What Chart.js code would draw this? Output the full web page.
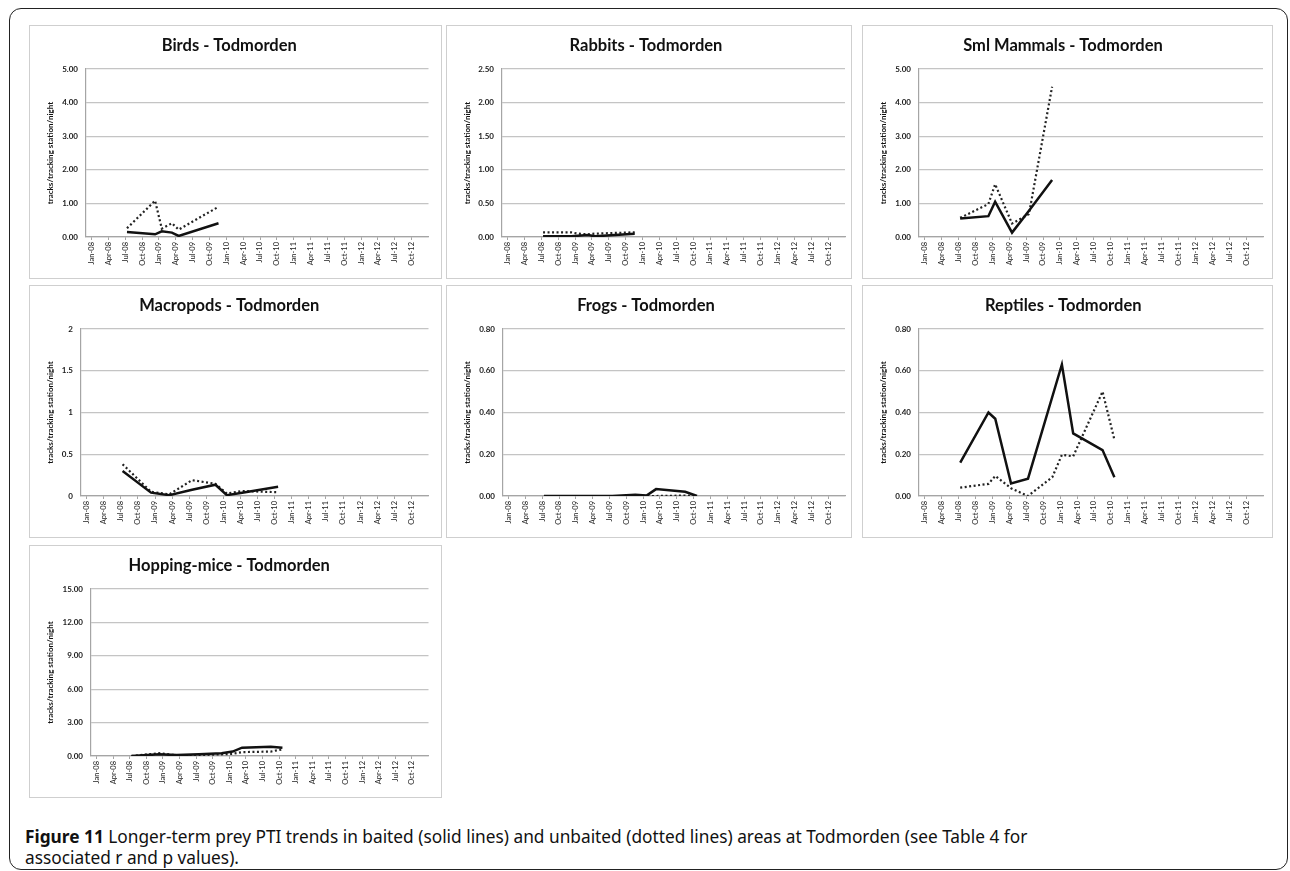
<!DOCTYPE html>
<html>
<head>
<meta charset="utf-8">
<script src="https://cdn.jsdelivr.net/npm/chart.js@4.4.1/dist/chart.umd.min.js"></script>
<style>
  body { margin: 0; background: #fff; width: 1290px; height: 871px; position: relative; overflow: hidden; }
  #frame { position: absolute; left: 9px; top: 8px; width: 1279px; height: 862px; border: 1.5px solid #222; border-radius: 12px; box-sizing: border-box; }
  .panel { position: absolute; border: 1.5px solid #cfcfcf; box-sizing: border-box; background: #fff; }
  .panel canvas { display: block; }
  #caption { position: absolute; left: 25px; top: 826px; font: 17.3px/21px "Noto Sans", sans-serif; color: #111; white-space: nowrap; }
</style>
</head>
<body>
<div id="frame"></div>
<div id="caption"><b>Figure 11</b> Longer-term prey PTI trends in baited (solid lines) and unbaited (dotted lines) areas at Todmorden (see Table 4 for<br>associated r and p values).</div>
<script>
// x axis: months since Jan-08, ticks every 3 months
const tickLabels = [
  "Jan-08", "Apr-08", "Jul-08", "Oct-08",
  "Jan-09", "Apr-09", "Jul-09", "Oct-09",
  "Jan-10", "Apr-10", "Jul-10", "Oct-10",
  "Jan-11", "Apr-11", "Jul-11", "Oct-11",
  "Jan-12", "Apr-12", "Jul-12", "Oct-12",
];

const titles = [
  "Birds - Todmorden",
  "Rabbits - Todmorden",
  "Sml Mammals - Todmorden",
  "Macropods - Todmorden",
  "Frogs - Todmorden",
  "Reptiles - Todmorden",
  "Hopping-mice - Todmorden",
];
const yTitle = "tracks/tracking station/night";
const yMax = [5, 2.5, 5, 2, 0.8, 0.8, 15];
const yStep = [1, 0.5, 1, 0.5, 0.2, 0.2, 3];
const yDecimals = [2, 2, 2, null, 2, 2, 2];

// solid = baited, dotted = unbaited
const birdsMonths = [6.3, 11.3, 12.5, 14.3, 15.5, 22.6];
const birdsBaited = [0.15, 0.08, 0.17, 0.13, 0.03, 0.41];
const birdsUnbaited = [0.26, 1.08, 0.25, 0.41, 0.22, 0.9];

const rabbitsMonths = [6.3, 11.3, 12.5, 14.3, 15.5, 22.6];
const rabbitsBaited = [0.01, 0.01, 0.02, 0.03, 0.01, 0.05];
const rabbitsUnbaited = [0.07, 0.07, 0.05, 0.04, 0.05, 0.07];

const smlMonths = [6.3, 11.3, 12.5, 15.5, 18.5, 22.6];
const smlBaited = [0.55, 0.62, 1.05, 0.13, 0.78, 1.7];
const smlUnbaited = [0.57, 0.98, 1.57, 0.4, 0.68, 4.47];

const macroMonths = [6.3, 11.3, 14.5, 18.5, 22.6, 24.6, 27.3, 33.6];
const macroBaited = [0.3, 0.04, 0.01, 0.075, 0.135, 0.01, 0.04, 0.11];
const macroUnbaited = [0.38, 0.05, 0.02, 0.19, 0.145, 0.03, 0.06, 0.045];

const frogMonths = [6.3, 11.3, 12.5, 14.5, 18.5, 22.6, 24.6, 26.3, 31.5, 33.6];
const frogBaited = [0, 0, 0, 0, 0, 0.006, 0.002, 0.033, 0.02, 0];
const frogUnbaited = [0, 0, 0, 0, 0, 0, 0, 0, 0.002, 0];

const reptMonths = [6.3, 11.3, 12.5, 15.3, 18.3, 22.6, 24.3, 26.3, 31.5, 33.6];
const reptBaited = [0.16, 0.4, 0.37, 0.06, 0.083, null, 0.63, 0.3, 0.22, 0.09];
const reptUnbaited = [0.04, 0.058, 0.096, 0.037, 0.0, 0.09, 0.197, 0.19, 0.5, 0.27];

const hopMonths = [6.3, 11.3, 14.5, 18.5, 22.6, 24.6, 26.3, 31.5, 33.6];
const hopBaited = [0.0, 0.15, 0.08, 0.15, 0.25, 0.4, 0.75, 0.83, 0.75];
const hopUnbaited = [0.0, 0.25, 0.06, 0.08, 0.15, 0.2, 0.35, 0.4, 0.6];

// panel boxes [left, top, width, height] and plot margins
const panelBoxes = [
  [29, 25, 413, 254], [446, 25, 406, 254], [862, 25, 411, 254],
  [29, 285, 413, 253], [446, 285, 406, 253], [862, 285, 411, 253],
  [29, 545, 413, 253],
];
const yAxisW = [56, 55, 56, 51, 56, 56, 61];
const padRight = [11.5, 5, 8, 11.5, 5, 7.5, 11.5];

const FONT = "Lato, 'Open Sans', sans-serif";
const gridColor = "#c4c4c4";
const axisColor = "#a5a5a5";

function toPoints(months, values) {
  return months.map((m, k) => ({ x: m, y: values[k] }));
}

function makeChart(i, months, baited, unbaited) {
  const [left, top, w, h] = panelBoxes[i];
  const div = document.createElement("div");
  div.className = "panel";
  div.style.left = left + "px";
  div.style.top = top + "px";
  div.style.width = w + "px";
  div.style.height = h + "px";
  const canvas = document.createElement("canvas");
  canvas.width = w - 3;
  canvas.height = h - 3;
  div.appendChild(canvas);
  document.body.appendChild(div);

  new Chart(canvas, {
    type: "line",
    data: {
      datasets: [
        {
          label: "baited",
          data: toPoints(months, baited),
          borderColor: "#111",
          borderWidth: 2.5,
          pointRadius: 0,
          spanGaps: true,
        },
        {
          label: "unbaited",
          data: toPoints(months, unbaited),
          borderColor: "#222",
          borderWidth: 2.2,
          borderDash: [2, 2.5],
          pointRadius: 0,
          spanGaps: true,
        },
      ],
    },
    options: {
      responsive: false,
      animation: false,
      layout: { padding: { left: 0, right: padRight[i], top: 0, bottom: 0 } },
      plugins: {
        legend: { display: false },
        tooltip: { enabled: false },
        title: {
          display: true,
          text: titles[i],
          color: "#111",
          font: { family: FONT, size: 16.5, weight: "bold" },
          padding: { top: 9.6, bottom: 13.6 },
        },
      },
      scales: {
        x: {
          type: "linear",
          min: -1,
          max: 60,
          afterBuildTicks: (s) => {
            s.ticks = tickLabels.map((t, k) => ({ value: k * 3 }));
          },
          afterFit: (s) => {
            s.height = 40;
          },
          ticks: {
            autoSkip: false,
            minRotation: 90,
            maxRotation: 90,
            padding: 2,
            color: "#222",
            font: { family: FONT, size: 7.5 },
            callback: (v) => tickLabels[Math.round(v / 3)],
          },
          grid: { drawOnChartArea: false, tickLength: 3, color: axisColor },
          border: { color: axisColor, width: 1.2 },
        },
        y: {
          min: 0,
          max: yMax[i],
          afterFit: (s) => {
            s.width = yAxisW[i];
          },
          ticks: {
            stepSize: yStep[i],
            padding: 8,
            color: "#1a1a1a",
            font: { family: FONT, size: 8, weight: "bold" },
            callback: (v) => (yDecimals[i] === null ? String(v) : v.toFixed(yDecimals[i])),
          },
          grid: { drawTicks: false, color: gridColor, lineWidth: 1.2 },
          border: { color: axisColor, width: 1.2 },
          title: {
            display: true,
            text: yTitle,
            color: "#111",
            font: { family: FONT, size: 8, weight: "bold" },
            padding: { top: 16, bottom: 0 },
          },
        },
      },
    },
  });
}

makeChart(0, birdsMonths, birdsBaited, birdsUnbaited);
makeChart(1, rabbitsMonths, rabbitsBaited, rabbitsUnbaited);
makeChart(2, smlMonths, smlBaited, smlUnbaited);
makeChart(3, macroMonths, macroBaited, macroUnbaited);
makeChart(4, frogMonths, frogBaited, frogUnbaited);
makeChart(5, reptMonths, reptBaited, reptUnbaited);
makeChart(6, hopMonths, hopBaited, hopUnbaited);
</script>
</body>
</html>
